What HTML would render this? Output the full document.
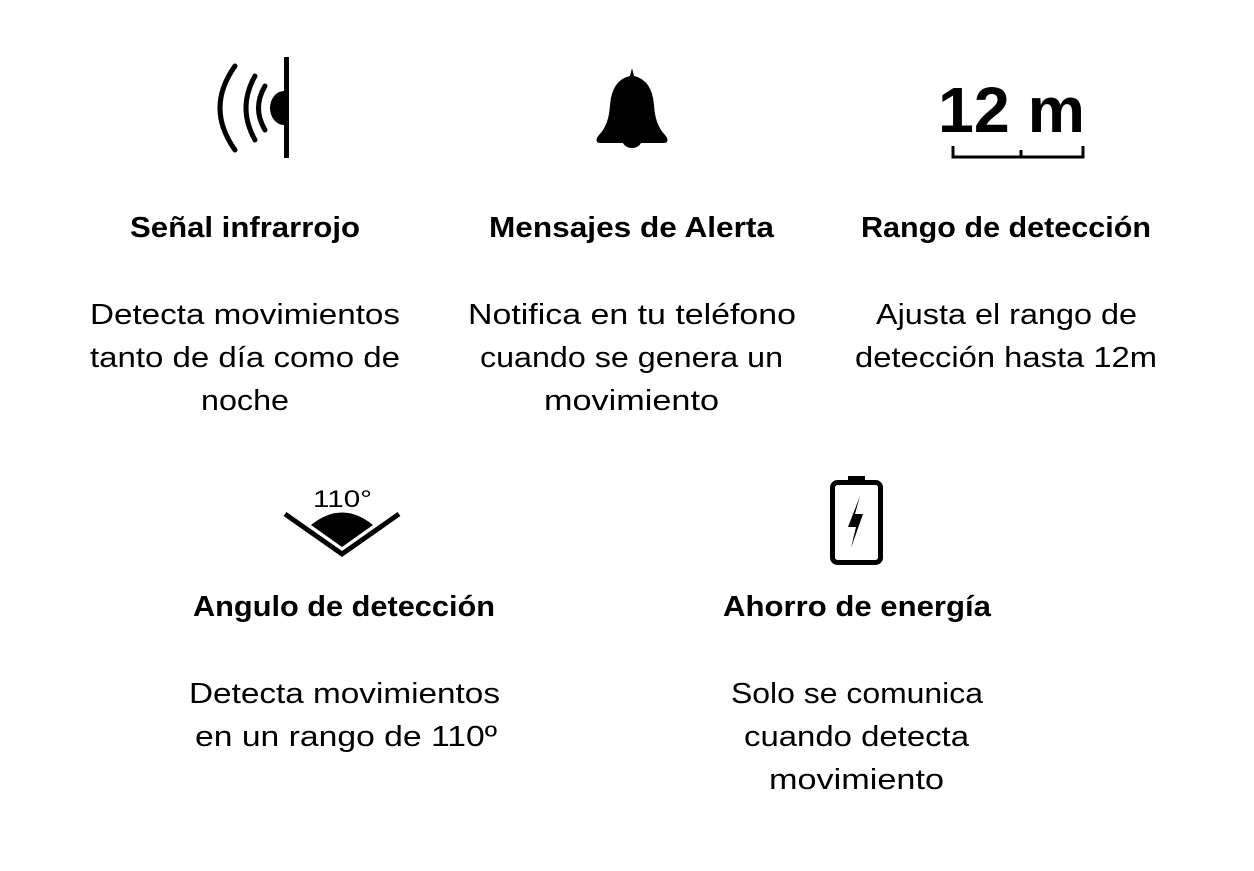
<!DOCTYPE html>
<html><head><meta charset="utf-8"><style>
html,body{margin:0;padding:0;background:#fff;}
svg{display:block;}
text{font-family:"Liberation Sans",sans-serif;fill:#000;}
.t{font-weight:bold;font-size:29px;}
.b{font-size:29px;}
</style></head><body>
<svg width="1254" height="871" viewBox="0 0 1254 871" xmlns="http://www.w3.org/2000/svg">
<rect width="1254" height="871" fill="#fff"/>
<!-- infrared icon -->
<rect x="284" y="57" width="5" height="101" fill="#000"/>
<path d="M284 91 A14 17 0 0 0 284 125 Z" fill="#000"/>
<g fill="none" stroke="#000" stroke-width="5" stroke-linecap="round">
<path d="M265 86 Q252 108 265 130"/>
<path d="M255 76 Q237 108 255 140"/>
<path d="M235 66 Q205 108 235 150"/>
</g>
<!-- bell -->
<path d="M632 68 L634 76 Q652 80 654 105 Q655 125 665 135 Q670 141 665 143 L599 143 Q594 141 599 135 Q609 125 610 105 Q612 80 630 76 Z" fill="#000"/>
<path d="M621 139 L643 139 Q640 148 632 148 Q624 148 621 139 Z" fill="#000"/>
<!-- 12 m -->
<text x="938" y="132" style="font-weight:bold;font-size:64px" textLength="147" lengthAdjust="spacingAndGlyphs">12 m</text>
<g stroke="#000" stroke-width="3" fill="none">
<path d="M953 146 V157 H1083 V146"/>
<path d="M1021 150 V157"/>
</g>
<!-- angle icon -->
<text x="313" y="507" style="font-size:24px" textLength="59" lengthAdjust="spacingAndGlyphs">110°</text>
<polyline points="285,514 342,554 399,514" fill="none" stroke="#000" stroke-width="5"/>
<path d="M311 525 Q342 500 373 525 L342 547 Z" fill="#000"/>
<!-- battery -->
<rect x="848" y="476" width="17" height="7" fill="#000"/>
<rect x="832.5" y="482.5" width="48" height="80" rx="5" fill="none" stroke="#000" stroke-width="5"/>
<path d="M860 496 L848 527 L856 527 L851 548 L863 514 L855 514 Z" fill="#000"/>

<!-- titles -->
<text class="t" x="130" y="237" textLength="230" lengthAdjust="spacingAndGlyphs">Señal infrarrojo</text>
<text class="t" x="489" y="237" textLength="285" lengthAdjust="spacingAndGlyphs">Mensajes de Alerta</text>
<text class="t" x="861" y="237" textLength="290" lengthAdjust="spacingAndGlyphs">Rango de detección</text>
<text class="t" x="193" y="616" textLength="302" lengthAdjust="spacingAndGlyphs">Angulo de detección</text>
<text class="t" x="723" y="616" textLength="268" lengthAdjust="spacingAndGlyphs">Ahorro de energía</text>

<!-- bodies -->
<text class="b" x="90" y="324" textLength="310" lengthAdjust="spacingAndGlyphs">Detecta movimientos</text>
<text class="b" x="90" y="367" textLength="310" lengthAdjust="spacingAndGlyphs">tanto de día como de</text>
<text class="b" x="201" y="410" textLength="88" lengthAdjust="spacingAndGlyphs">noche</text>

<text class="b" x="468" y="324" textLength="328" lengthAdjust="spacingAndGlyphs">Notifica en tu teléfono</text>
<text class="b" x="480" y="367" textLength="303" lengthAdjust="spacingAndGlyphs">cuando se genera un</text>
<text class="b" x="544" y="410" textLength="175" lengthAdjust="spacingAndGlyphs">movimiento</text>

<text class="b" x="876" y="324" textLength="261" lengthAdjust="spacingAndGlyphs">Ajusta el rango de</text>
<text class="b" x="855" y="367" textLength="302" lengthAdjust="spacingAndGlyphs">detección hasta 12m</text>

<text class="b" x="189" y="703" textLength="311" lengthAdjust="spacingAndGlyphs">Detecta movimientos</text>
<text class="b" x="195" y="746" textLength="302" lengthAdjust="spacingAndGlyphs">en un rango de 110º</text>

<text class="b" x="731" y="703" textLength="252" lengthAdjust="spacingAndGlyphs">Solo se comunica</text>
<text class="b" x="744" y="746" textLength="225" lengthAdjust="spacingAndGlyphs">cuando detecta</text>
<text class="b" x="769" y="789" textLength="175" lengthAdjust="spacingAndGlyphs">movimiento</text>
</svg>
</body></html>
